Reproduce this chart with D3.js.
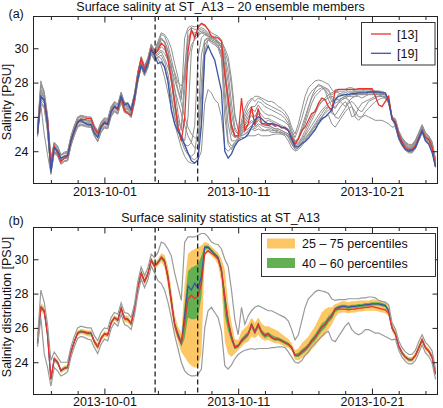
<!DOCTYPE html>
<html>
<head>
<meta charset="utf-8">
<script src="https://cdn.jsdelivr.net/npm/d3@7"></script>
<style>
  body { margin: 0; background: #fff; }
  svg text { font-family: "Liberation Sans", Arial, Helvetica, sans-serif; }
</style>
</head>
<body>
<div id="chart"></div>
<script>
// sample grid: every 6 h from 2013-09-26 00:00 UTC (120 samples)
const START = Date.UTC(2013, 8, 26);
const HOUR = 3600e3;

// ensemble member [13] (red) and [19] (blue), PSU
const member13 = [
  25.1,27.1,27.0,25.8,23.2,24.3,23.9,23.4,23.6,23.7,
  24.6,25.2,25.7,25.85,25.85,25.9,25.9,25.35,25.05,25.45,
  25.7,25.6,26.3,26.6,26.4,27.1,26.4,26.2,26.1,27.0,
  28.5,29.4,28.8,29.2,30.0,29.6,29.9,30.3,30.1,29.4,
  28.2,26.9,25.4,24.6,25.9,29.8,31.1,30.6,31.2,31.45,
  31.35,31.1,30.7,30.6,30.6,30.4,28.4,27.1,25.5,24.9,
  24.9,27.1,25.2,25.6,26.6,25.5,26.5,25.6,25.6,25.5,
  25.6,25.45,25.5,25.35,25.4,25.2,24.8,24.4,24.7,25.2,
  25.4,25.8,26.2,26.3,26.8,27.1,27.0,26.6,26.4,27.55,
  27.6,27.6,27.6,27.6,27.6,27.6,27.65,27.65,27.65,27.65,
  27.65,27.2,26.7,26.6,26.9,27.2,25.9,25.7,25.0,24.55,
  24.2,24.1,24.1,24.3,24.75,25.2,24.8,24.7,24.2,23.1
];
const member19 = [
  25.0,27.2,27.0,25.6,22.8,24.2,24.0,23.6,23.7,23.75,
  24.6,25.2,25.7,25.8,25.65,25.55,25.55,25.05,24.8,25.4,
  25.65,25.55,26.3,26.6,26.5,27.2,26.7,26.8,26.4,27.2,
  28.2,29.0,28.6,29.1,29.9,29.6,29.1,29.2,28.9,28.1,
  26.4,25.6,25.15,24.85,24.4,23.9,23.45,23.3,23.5,25.5,
  29.6,30.15,29.7,29.3,28.4,27.5,24.0,23.6,23.85,24.3,
  24.6,24.7,24.8,25.0,25.4,25.8,26.0,25.9,25.7,25.6,
  25.6,25.55,25.5,25.4,25.35,25.2,24.7,24.25,24.25,24.45,
  24.55,24.75,25.0,25.25,25.6,25.9,26.0,26.2,26.4,27.0,
  27.2,27.25,27.3,27.3,27.35,27.35,27.4,27.4,27.4,27.45,
  27.45,27.45,27.45,27.4,27.4,26.9,25.85,25.6,24.8,24.4,
  24.1,24.0,24.05,24.2,24.7,25.2,24.6,24.4,23.9,23.1
];

// other ensemble members (gray)
const memberG1 = [
  25.3,28.1,27.4,26.0,23.6,24.5,24.3,23.8,23.9,23.95,24.85,25.45,25.95,26.05,26.0,25.95,25.95,25.45,25.15,25.65,
  25.9,25.85,26.55,26.85,26.7,27.4,26.8,26.75,26.5,27.35,28.6,29.45,28.95,29.4,30.2,29.85,
  30.2,30.8,30.7,30.2,29.4,28.5,27.6,27.0,30.6,31.2,31.3,31.25,31.3,31.4,31.3,31.1,30.9,30.8,30.7,30.5,29.8,29.2,27.8,26.0,25.3,
  25.6,26.2,26.7,27.0,27.2,27.2,27.1,27.0,26.9,26.9,26.8,26.6,26.5,26.3,26.0,25.4,25.0,25.6,26.4,27.2,27.7,27.9,28.1,28.15,28.1,
  28.0,27.9,27.6,27.4,27.5,27.5,27.5,27.6,27.6,27.5,27.5,27.5,27.5,27.5,27.4,27.4,27.4,27.3,27.3,26.9,26.0,
  25.85,25.15,24.75,24.5,24.35,24.35,24.6,25.05,25.5,25.05,24.85,24.5,23.5
];
const memberG2 = [
  24.9,26.7,25.0,23.8,22.7,23.9,23.7,23.25,23.4,23.45,24.35,24.95,25.45,25.55,25.5,25.45,25.4,24.9,24.55,25.1,
  25.4,25.35,26.05,26.35,26.2,26.9,26.3,26.2,26.0,26.85,28.05,28.9,28.4,28.9,29.65,29.35,
  29.4,29.0,28.3,27.4,26.5,25.6,24.9,24.2,23.7,23.4,23.3,23.3,23.5,24.0,26.8,27.6,27.4,27.0,26.8,26.0,24.2,24.0,24.2,24.5,24.7,
  24.8,24.8,24.9,24.9,24.9,25.0,24.9,24.9,24.9,24.95,25.0,25.0,25.0,24.9,24.6,24.2,24.0,24.1,24.3,24.6,24.8,25.1,25.3,25.6,25.8,
  26.0,26.1,25.6,25.4,25.7,26.0,26.3,26.5,26.6,26.3,26.0,26.0,26.1,26.0,25.9,25.8,25.8,25.8,25.7,25.6,25.4,
  25.45,24.75,24.35,24.1,23.95,23.95,24.2,24.65,25.1,24.65,24.45,24.1,23.1
];
const memberG3 = [
  25.2,27.5,27.2,25.9,23.2,24.3,24.1,23.6,23.75,23.8,24.7,25.3,25.8,25.9,25.85,25.8,25.8,25.3,25.0,25.5,
  25.75,25.7,26.4,26.7,26.55,27.25,26.65,26.6,26.35,27.2,28.45,29.3,28.8,29.25,30.05,29.7,
  29.9,30.3,30.1,29.3,28.0,26.8,25.8,25.3,28.5,30.6,31.0,30.9,31.0,31.1,31.0,30.8,30.6,30.6,30.4,30.0,28.5,26.5,25.0,24.8,24.9,
  25.4,25.8,26.2,26.5,26.3,26.7,26.4,26.2,26.1,26.1,26.0,25.9,25.8,25.7,25.5,25.1,24.6,24.7,25.1,25.6,26.2,26.8,27.2,27.4,27.6,
  27.7,27.6,27.1,26.8,26.9,27.1,27.2,27.3,27.4,27.4,27.4,27.4,27.5,27.5,27.5,27.5,27.4,27.4,27.4,27.0,26.0,
  25.75,25.05,24.65,24.4,24.25,24.25,24.5,24.95,25.4,24.95,24.75,24.4,23.4
];
const memberG4 = [
  25.0,27.0,26.8,25.3,22.65,24.0,23.9,23.4,23.55,23.6,24.5,25.1,25.6,25.7,25.65,25.6,25.6,25.1,24.8,25.3,
  25.55,25.5,26.2,26.5,26.35,27.05,26.45,26.4,26.15,27.0,28.25,29.1,28.6,29.05,29.85,29.5,
  29.6,29.8,29.4,28.9,28.3,27.6,26.9,26.2,25.5,24.9,24.5,24.2,24.2,28.0,30.4,30.6,30.5,30.4,30.2,29.6,27.6,25.6,24.6,24.6,24.8,
  25.1,25.4,25.6,25.8,25.6,25.9,25.7,25.5,25.6,25.4,25.3,25.3,25.2,25.1,25.0,24.7,24.3,24.4,24.6,24.9,25.2,25.5,25.8,26.1,26.4,
  26.6,26.8,26.9,27.0,27.0,26.8,26.6,26.9,27.1,27.2,27.2,27.1,27.2,27.3,27.3,27.3,27.3,27.3,27.3,26.9,26.0,
  25.55,24.85,24.45,24.2,24.05,24.05,24.3,24.75,25.2,24.75,24.55,24.2,23.2
];
const memberG5 = [
  25.0,26.9,26.6,25.1,22.9,24.0,23.8,23.3,23.45,23.5,24.4,25.0,25.5,25.6,25.55,25.5,25.5,24.95,24.6,25.2,
  25.45,25.4,26.1,26.4,26.25,26.95,26.35,26.3,26.05,26.9,28.15,29.0,28.5,28.95,29.75,29.4,
  29.5,29.6,29.2,28.5,27.3,26.0,25.3,24.8,24.3,23.9,23.6,23.5,23.7,27.0,30.2,30.5,30.3,30.2,30.0,29.4,26.0,24.4,24.1,24.4,24.6,
  25.0,25.2,25.3,25.5,25.4,25.6,25.5,25.4,25.4,25.3,25.2,25.2,25.1,25.0,24.9,24.5,24.2,24.3,24.5,24.8,25.0,25.3,25.6,25.9,26.2,
  26.5,26.6,26.2,26.1,26.4,26.7,26.9,26.6,26.0,26.1,26.5,26.8,26.9,27.0,27.1,27.2,27.2,27.2,27.2,26.8,26.0,
  25.5,24.8,24.4,24.15,24.0,24.0,24.25,24.7,25.15,24.7,24.5,24.15,23.15
];
const memberG6 = [
  25.3,27.9,27.5,26.1,23.5,24.5,24.2,23.75,23.85,23.9,24.8,25.4,25.9,26.0,25.95,25.9,25.9,25.4,25.1,25.6,
  25.85,25.8,26.5,26.8,26.65,27.35,26.75,26.7,26.45,27.3,28.55,29.4,28.9,29.35,30.15,29.8,
  29.8,30.1,29.9,29.6,29.1,28.6,28.0,27.8,28.2,29.3,30.2,30.5,30.7,30.9,30.9,30.7,30.6,30.5,30.3,30.1,29.4,28.0,26.2,25.2,25.0,
  25.5,26.0,26.4,26.6,26.6,26.9,26.8,26.6,26.5,26.4,26.3,26.2,26.1,25.9,25.6,25.0,24.5,24.8,25.4,26.0,26.6,27.1,27.4,27.6,27.7,
  27.6,27.3,26.9,27.0,27.3,27.4,27.4,27.5,27.5,27.5,27.5,27.5,27.6,27.6,27.6,27.5,27.5,27.5,27.4,27.0,26.0,
  25.8,25.1,24.7,24.45,24.3,24.3,24.55,25.0,25.45,25.0,24.8,24.45,23.45
];
const memberG7 = [
  25.1,27.3,26.9,25.5,23.0,24.3,24.0,23.5,23.6,23.7,24.6,25.2,25.75,25.85,25.7,25.65,25.75,25.25,24.85,25.35,
  25.65,25.65,26.35,26.55,26.45,27.2,26.5,26.5,26.3,27.05,28.3,29.2,28.75,29.1,29.95,29.65,
  30.0,30.5,30.4,29.8,28.6,27.0,25.6,24.7,24.4,24.3,24.5,25.5,29.5,30.6,30.8,30.7,30.6,30.5,30.4,30.2,29.0,27.0,25.4,24.9,24.9,
  25.2,25.5,25.8,26.1,25.8,26.2,25.9,25.7,25.8,25.7,25.6,25.5,25.4,25.3,25.2,24.8,24.4,24.5,24.8,25.2,25.6,26.0,26.4,26.7,26.9,
  27.0,27.1,27.2,27.1,27.0,27.1,27.2,27.2,27.3,27.3,27.3,27.3,27.3,27.4,27.4,27.4,27.3,27.3,27.3,26.9,26.0,
  25.65,24.95,24.55,24.3,24.15,24.15,24.4,24.85,25.3,24.85,24.65,24.3,23.3
];
const memberG8 = [
  25.2,27.6,27.1,25.7,23.3,24.4,24.1,23.6,23.7,23.8,24.7,25.3,25.8,25.9,25.8,25.75,25.8,25.35,25.05,25.5,
  25.8,25.75,26.45,26.75,26.55,27.3,26.7,26.65,26.4,27.25,28.5,29.35,28.85,29.3,30.1,29.75,
  30.3,30.6,30.4,29.9,29.0,27.7,26.2,25.2,27.6,30.4,30.9,30.8,30.9,31.0,30.9,30.8,30.6,30.5,30.4,30.2,29.6,28.6,26.8,25.4,25.0,
  24.9,25.0,25.1,25.3,25.2,25.3,25.2,25.2,25.2,25.1,25.1,25.1,25.0,25.0,24.8,24.4,24.1,24.2,24.4,24.6,24.9,25.2,25.5,25.8,26.0,
  26.2,26.4,26.5,26.6,26.8,27.0,27.1,27.0,26.6,26.0,25.8,26.0,26.3,26.5,26.7,26.9,27.0,27.1,27.1,26.8,26.0,
  25.7,25.0,24.6,24.35,24.2,24.2,24.45,24.9,25.35,24.9,24.7,24.35,23.35
];
const memberG9 = [
  25.15,27.4,27.1,25.6,23.1,24.25,24.05,23.55,23.7,23.75,24.65,25.25,25.75,25.85,25.8,25.75,25.75,25.25,24.95,25.45,
  25.7,25.65,26.35,26.65,26.5,27.2,26.6,26.55,26.3,27.15,28.4,29.25,28.75,29.2,30.0,29.7,
  30.1,30.6,30.3,29.5,28.2,26.5,25.4,24.9,24.6,26.0,29.8,30.7,30.8,30.9,30.8,30.7,30.5,30.4,30.3,30.0,28.8,26.8,25.3,24.8,24.9,
  25.3,25.6,26.0,26.3,26.0,26.4,26.1,25.9,25.9,25.8,25.7,25.6,25.5,25.4,25.3,24.9,24.5,24.7,25.2,25.8,26.5,27.2,27.6,27.9,27.8,
  27.5,27.0,26.6,26.5,26.8,27.0,27.1,27.2,27.2,27.2,27.3,27.3,27.3,27.3,27.3,27.3,27.3,27.2,27.2,26.8,26.0,
  25.7,25.0,24.6,24.35,24.2,24.2,24.45,24.9,25.35,24.9,24.7,24.35,23.35
];
const memberG10 = [
  25.05,27.1,26.9,25.4,22.95,24.15,23.95,23.45,23.6,23.65,24.55,25.15,25.65,25.75,25.7,25.65,25.65,25.15,24.85,25.35,
  25.6,25.55,26.25,26.55,26.4,27.1,26.5,26.45,26.2,27.05,28.3,29.15,28.65,29.1,29.9,29.55,
  29.7,29.9,29.7,29.3,28.8,28.2,27.5,26.8,26.0,25.4,25.0,24.8,24.7,25.5,29.8,30.5,30.4,30.3,30.1,29.8,28.8,27.2,25.6,24.9,24.8,
  25.0,25.3,25.5,25.7,25.5,25.8,25.6,25.5,25.5,25.4,25.3,25.3,25.2,25.1,25.0,24.6,24.3,24.4,24.7,25.0,25.4,25.8,26.2,26.6,26.9,
  27.1,27.3,27.4,27.5,27.4,27.3,27.3,27.4,27.4,27.4,27.4,27.4,27.4,27.4,27.4,27.4,27.4,27.4,27.3,26.9,26.0,
  25.6,24.9,24.5,24.25,24.1,24.1,24.35,24.8,25.25,24.8,24.6,24.25,23.25
];
const memberG11 = [
  25.35,27.8,27.3,26.0,23.4,24.5,24.3,23.8,23.95,24.0,24.9,25.5,26.0,26.1,26.05,26.0,26.0,25.5,25.2,25.7,
  25.95,25.9,26.6,26.9,26.75,27.45,26.85,26.8,26.55,27.4,28.65,29.5,29.0,29.45,30.25,29.9,
  30.4,30.9,30.8,30.5,30.0,29.1,28.3,27.2,28.8,31.0,31.2,31.1,31.1,31.2,31.1,30.9,30.7,30.7,30.6,30.4,30.0,29.5,28.2,26.2,25.2,
  24.9,25.0,25.2,25.4,25.3,25.5,25.3,25.2,25.3,25.2,25.2,25.1,25.1,25.0,24.9,24.5,24.1,24.2,24.4,24.7,25.0,25.2,25.4,25.7,26.0,
  26.3,26.6,26.4,26.0,25.9,26.2,26.5,26.8,26.9,26.7,26.4,26.3,26.6,26.9,27.0,27.1,27.2,27.2,27.1,26.8,26.0,
  25.9,25.2,24.8,24.55,24.4,24.4,24.65,25.1,25.55,25.1,24.9,24.55,23.55
];
const memberG12 = [
  24.85,26.8,26.5,25.2,22.75,23.95,23.75,23.25,23.4,23.45,24.3,24.9,25.4,25.5,25.45,25.4,25.4,24.9,24.6,25.1,
  25.35,25.3,26.0,26.3,26.15,26.85,26.25,26.2,25.95,26.8,28.05,28.9,28.4,28.85,29.65,29.3,
  29.5,29.4,28.9,28.0,27.0,26.0,25.2,24.6,24.1,23.8,23.7,23.9,25.5,29.6,30.5,30.6,30.4,30.3,30.1,29.7,27.0,24.6,24.3,24.5,24.7,
  25.8,26.5,26.9,27.1,26.9,27.1,27.0,26.8,26.7,26.6,26.5,26.4,26.3,26.1,25.8,25.2,24.8,25.3,25.9,26.6,27.2,27.5,27.7,27.8,27.8,
  27.7,27.5,27.3,27.4,27.6,27.6,27.6,27.7,27.7,27.6,27.6,27.6,27.6,27.6,27.5,27.5,27.5,27.4,27.4,27.0,26.0,
  25.4,24.7,24.3,24.05,23.9,23.9,24.15,24.6,25.05,24.6,24.4,24.05,23.05
];
const grayMembers = [memberG1, memberG2, memberG3, memberG4, memberG5, memberG6,
  memberG7, memberG8, memberG9, memberG10, memberG11, memberG12];

// ensemble statistics (panel b)
const statMedian = [
  25.1,27.2,27.0,25.6,23.0,24.2,24.0,23.5,23.65,23.7,
  24.6,25.2,25.7,25.8,25.75,25.7,25.7,25.2,24.9,25.4,
  25.65,25.6,26.3,26.6,26.45,27.15,26.55,26.5,26.25,27.1,
  28.35,29.2,28.7,29.15,29.95,29.6,29.8,30.1,29.9,29.0,
  27.6,26.2,25.6,25.1,26.7,28.45,28.2,28.6,28.3,29.0,
  30.7,30.7,30.5,30.3,30.1,29.4,27.7,26.3,25.45,24.85,
  24.95,25.25,25.45,25.65,26.2,25.75,26.2,25.75,25.55,25.65,
  25.45,25.35,25.35,25.25,25.15,25.05,24.85,24.4,24.4,24.6,
  24.75,24.95,25.25,25.45,25.75,26.05,26.2,26.5,26.7,27.1,
  27.2,27.25,27.25,27.2,27.25,27.25,27.3,27.3,27.35,27.35,
  27.4,27.4,27.4,27.35,27.3,27.0,26.0,25.65,24.95,24.55,
  24.3,24.15,24.15,24.4,24.85,25.3,24.85,24.65,24.3,23.3
];
const statMean = [
  25.1,27.2,27.0,25.6,23.0,24.2,24.0,23.5,23.65,23.7,
  24.6,25.2,25.7,25.8,25.75,25.7,25.7,25.2,24.9,25.4,
  25.65,25.6,26.3,26.6,26.45,27.15,26.55,26.5,26.25,27.1,
  28.35,29.2,28.7,29.15,29.95,29.6,29.8,30.1,29.9,28.9,
  27.5,26.2,25.5,25.1,26.3,27.7,27.9,27.7,27.85,28.6,
  30.3,30.5,30.35,30.2,30.0,29.3,27.8,26.4,25.5,24.9,
  24.95,25.25,25.45,25.65,26.2,25.75,26.2,25.75,25.55,25.65,
  25.45,25.35,25.35,25.25,25.15,25.05,24.85,24.4,24.4,24.6,
  24.75,24.95,25.25,25.45,25.75,26.05,26.2,26.5,26.7,27.1,
  27.1,27.1,27.1,27.05,27.1,27.1,27.15,27.15,27.2,27.2,
  27.25,27.2,27.15,27.1,27.05,26.85,26.0,25.65,24.95,24.55,
  24.3,24.15,24.15,24.4,24.85,25.3,24.85,24.65,24.3,23.3
];
const statP25 = [
  24.95,26.95,26.75,25.3,22.85,24.0,23.85,23.35,23.5,23.55,
  24.4,25.05,25.55,25.65,25.6,25.5,25.5,25.0,24.7,25.2,
  25.5,25.45,26.1,26.45,26.25,26.95,26.35,26.3,26.05,26.9,
  28.15,29.0,28.5,28.95,29.75,29.4,29.6,29.85,29.5,28.4,
  27.0,25.8,25.2,24.6,24.3,24.0,23.8,23.7,23.7,24.5,
  30.2,30.4,30.2,30.0,29.7,28.6,25.2,24.5,24.3,24.5,
  24.7,24.9,25.1,25.2,25.5,25.4,25.6,25.35,25.25,25.3,
  25.2,25.1,25.1,25.0,24.9,24.85,24.65,24.15,24.1,24.25,
  24.35,24.5,24.75,24.95,25.2,25.45,25.6,25.9,26.2,26.6,
  26.85,26.9,26.9,26.85,26.9,26.9,26.95,26.95,27.0,27.0,
  27.0,27.0,26.95,26.9,26.85,26.7,25.8,25.45,24.75,24.4,
  24.15,24.0,24.0,24.25,24.65,25.1,24.7,24.5,24.1,23.1
];
const statP75 = [
  25.25,27.45,27.25,25.85,23.2,24.35,24.15,23.65,23.8,23.85,
  24.75,25.35,25.85,25.95,25.9,25.85,25.85,25.35,25.1,25.55,
  25.8,25.75,26.45,26.75,26.6,27.3,26.75,26.7,26.45,27.3,
  28.55,29.4,28.9,29.35,30.15,29.8,30.0,30.35,30.25,29.6,
  28.3,26.8,26.1,25.7,28.6,30.3,30.5,30.6,30.7,30.8,
  31.0,30.95,30.75,30.55,30.4,30.0,29.4,27.5,26.3,25.35,
  25.3,25.8,26.0,26.2,26.6,26.3,26.6,26.25,26.1,26.1,
  26.0,25.9,25.8,25.65,25.5,25.35,25.1,24.7,24.8,25.1,
  25.3,25.5,25.8,26.1,26.5,26.9,27.1,27.2,27.2,27.4,
  27.45,27.55,27.55,27.5,27.55,27.55,27.6,27.6,27.6,27.6,
  27.65,27.65,27.6,27.55,27.5,27.3,26.3,25.85,25.15,24.7,
  24.45,24.3,24.3,24.55,25.05,25.5,25.0,24.8,24.5,23.5
];
const statP40 = [
  25.03,27.1,26.9,25.5,22.93,24.12,23.93,23.43,23.58,23.63,
  24.52,25.13,25.63,25.73,25.68,25.62,25.62,25.12,24.82,25.33,
  25.58,25.53,26.23,26.53,26.38,27.07,26.47,26.42,26.17,27.02,
  28.27,29.1,28.62,29.07,29.87,29.52,29.72,30.0,29.75,28.8,
  27.4,26.0,25.4,24.9,25.4,26.6,26.5,26.5,26.6,27.8,
  30.55,30.6,30.4,30.2,29.95,29.1,26.7,25.8,25.2,24.75,
  24.85,25.1,25.3,25.5,26.0,25.6,26.0,25.6,25.4,25.5,
  25.35,25.25,25.25,25.15,25.05,24.95,24.75,24.3,24.3,24.45,
  24.6,24.8,25.05,25.25,25.55,25.8,26.0,26.3,26.5,26.9,
  27.05,27.15,27.15,27.1,27.15,27.15,27.2,27.2,27.25,27.25,
  27.3,27.3,27.3,27.25,27.2,26.9,25.9,25.58,24.88,24.48,
  24.23,24.08,24.08,24.33,24.78,25.23,24.78,24.58,24.22,23.22
];
const statP60 = [
  25.17,27.3,27.1,25.7,23.07,24.28,24.07,23.57,23.72,23.77,
  24.68,25.27,25.77,25.87,25.82,25.78,25.78,25.28,24.98,25.47,
  25.72,25.67,26.37,26.67,26.52,27.23,26.63,26.58,26.33,27.18,
  28.43,29.3,28.78,29.23,30.03,29.68,29.9,30.2,30.05,29.2,
  27.8,26.4,25.8,25.3,27.4,29.3,29.5,29.6,29.7,30.2,
  30.8,30.8,30.6,30.4,30.2,29.6,28.2,26.7,25.7,25.0,
  25.05,25.4,25.6,25.8,26.35,25.9,26.35,25.9,25.7,25.75,
  25.6,25.5,25.45,25.35,25.25,25.15,24.95,24.5,24.55,24.75,
  24.9,25.1,25.4,25.65,25.95,26.25,26.4,26.7,26.9,27.2,
  27.3,27.35,27.35,27.3,27.35,27.35,27.4,27.4,27.45,27.45,
  27.5,27.5,27.5,27.45,27.4,27.1,26.1,25.72,25.02,24.62,
  24.37,24.22,24.22,24.47,24.92,25.37,24.92,24.72,24.38,23.38
];
const statMin = [
  24.9,26.6,24.5,23.7,22.6,23.7,23.5,23.2,23.3,23.45,
  24.3,24.9,25.4,25.5,25.45,25.35,25.3,24.85,24.5,25.05,
  25.35,25.25,25.95,26.3,26.1,26.8,26.2,26.1,25.9,26.75,
  27.95,28.85,28.35,28.8,29.6,29.2,28.75,28.6,28.2,27.5,
  26.6,25.6,24.8,24.0,23.5,23.3,23.2,23.2,23.3,23.6,
  26.0,27.0,27.2,26.9,26.6,25.8,23.8,23.6,23.85,24.2,
  24.45,24.6,24.7,24.75,24.8,24.75,24.8,24.8,24.8,24.8,
  24.85,24.85,24.9,24.9,24.85,24.6,24.3,24.0,23.95,24.1,
  24.4,24.6,24.9,25.1,25.3,25.5,25.7,25.8,25.3,25.2,
  25.5,25.8,26.1,26.3,25.9,25.7,25.6,25.7,25.9,25.9,
  25.8,25.7,25.7,25.6,25.5,25.4,25.3,25.35,24.7,24.3,
  24.05,23.9,23.9,24.1,24.55,25.0,24.55,24.35,23.95,23.0
];
const statMax = [
  25.4,28.2,27.5,26.2,24.1,24.6,24.3,24.0,24.0,24.0,
  24.9,25.5,26.0,26.1,26.05,26.0,26.0,25.55,25.25,25.75,
  26.0,25.95,26.6,26.9,26.8,27.45,26.9,26.85,26.6,27.4,
  28.7,29.55,29.05,29.5,30.3,30.1,30.4,31.0,30.9,30.6,
  30.2,29.2,28.4,27.6,31.0,31.3,31.3,31.3,31.4,31.5,
  31.5,31.3,31.0,30.9,30.85,30.6,30.0,29.6,28.2,26.5,
  25.6,27.2,26.2,26.7,27.0,27.2,27.3,27.2,27.1,27.0,
  27.0,26.9,26.8,26.7,26.6,26.4,25.9,25.3,25.6,26.4,
  27.2,27.7,27.9,28.1,28.2,28.15,28.1,28.0,27.7,27.6,
  27.65,27.65,27.65,27.7,27.7,27.7,27.7,27.75,27.75,27.8,
  27.8,27.75,27.6,27.55,27.5,27.35,26.3,25.95,25.25,24.85,
  24.6,24.45,24.45,24.7,25.2,25.6,25.15,24.95,24.65,23.6
];

// axis ticks and markers
const minorTickDays = ["2013-09-27","2013-09-29","2013-10-03","2013-10-05","2013-10-07","2013-10-09",
  "2013-10-13","2013-10-15","2013-10-17","2013-10-19","2013-10-23","2013-10-25"];
const majorTickDays = ["2013-10-01","2013-10-11","2013-10-21"];
const yTicks = [24, 26, 28, 30];
const dashedTimes = ["2013-10-04T19:00Z", "2013-10-07T23:20Z"];

// layout
const W = 443, H = 408;
const left = 33.5, right = 437.5;
const panels = [
  {id: "a", top: 16.5, bottom: 183.5, title: "Surface salinity at ST_A13 \u2013 20 ensemble members",
   ylabel: "Salinity [PSU]", labelY: 102, titleY: 11, tagY: 17.5, tickPad: 4},
  {id: "b", top: 227.5, bottom: 394.5, title: "Surface salinity statistics at ST_A13",
   ylabel: "Salinity distribution [PSU]", labelY: 307, titleY: 221.5, tagY: 225, tickPad: 3}
];
const FONT = "'Liberation Sans', Arial, Helvetica, sans-serif";
const red = "#e8322c", blue = "#3a55a8", gray = "#919191";

const svg = d3.select("#chart").append("svg")
    .attr("width", W).attr("height", H);

const times = d3.range(member13.length).map(i => new Date(START + i * 6 * HOUR));
const x = d3.scaleUtc()
    .domain([new Date(START - 0.3 * 24 * HOUR), new Date(START + 29.9 * 24 * HOUR)])
    .range([left, right]);
const parseDay = d => new Date(d + "T00:00Z");

panels.forEach(p => {
    const y = d3.scaleLinear().domain([22.12, 31.85]).range([p.bottom, p.top]);
    const g = svg.append("g");

    g.append("clipPath").attr("id", "clip-" + p.id)
      .append("rect").attr("x", left).attr("y", p.top)
      .attr("width", right - left).attr("height", p.bottom - p.top);
    const plot = g.append("g").attr("clip-path", `url(#clip-${p.id})`);

    const line = d3.line().x((d, i) => x(times[i])).y(d => y(d));

    if (p.id === "a") {
        grayMembers.forEach(m => {
            plot.append("path").attr("d", line(m))
              .attr("fill", "none").attr("stroke", gray).attr("stroke-width", 1);
        });
        plot.append("path").attr("d", line(member13))
          .attr("fill", "none").attr("stroke", red).attr("stroke-width", 1.3);
        plot.append("path").attr("d", line(member19))
          .attr("fill", "none").attr("stroke", blue).attr("stroke-width", 1.3);
    } else {
        const band = (lo, hi) => d3.area()
            .x((d, i) => x(times[i])).y0((d, i) => y(lo[i])).y1((d, i) => y(hi[i]))(lo);
        plot.append("path").attr("d", band(statP25, statP75))
          .attr("fill", "#fdc766").attr("stroke", "none");
        plot.append("path").attr("d", band(statP40, statP60))
          .attr("fill", "#63b052").attr("stroke", "none");
        plot.append("path").attr("d", line(statMedian))
          .attr("fill", "none").attr("stroke", blue).attr("stroke-width", 1.3);
        plot.append("path").attr("d", line(statMean))
          .attr("fill", "none").attr("stroke", red).attr("stroke-width", 1.3);
        [statMin, statMax].forEach(s => {
            plot.append("path").attr("d", line(s))
              .attr("fill", "none").attr("stroke", "#9a9a9a").attr("stroke-width", 1.2);
        });
    }

    // dashed markers
    dashedTimes.forEach(t => {
        const xx = x(new Date(t));
        g.append("line").attr("x1", xx).attr("x2", xx).attr("y1", p.top).attr("y2", p.bottom)
          .attr("stroke", "#222").attr("stroke-width", 1.3).attr("stroke-dasharray", "5,3");
    });

    // axes (ticks inward, matplotlib classic)
    const styleAxis = sel => sel.attr("font-size", 12.5).attr("font-family", FONT)
        .attr("color", "#222").call(s => s.select(".domain").remove());

    g.append("g").attr("transform", `translate(0,${p.bottom})`)
      .call(d3.axisBottom(x).tickValues(majorTickDays.map(parseDay))
        .tickSizeInner(-6).tickSizeOuter(0).tickPadding(p.tickPad)
        .tickFormat(d3.utcFormat("%Y-%m-%d")))
      .call(styleAxis)
      .selectAll("text").attr("fill", "#111");
    g.append("g").attr("transform", `translate(0,${p.bottom})`)
      .call(d3.axisBottom(x).tickValues(minorTickDays.map(parseDay))
        .tickSizeInner(-3.5).tickSizeOuter(0).tickFormat(""))
      .call(styleAxis);
    g.append("g").attr("transform", `translate(0,${p.top})`)
      .call(d3.axisTop(x).tickValues(majorTickDays.map(parseDay))
        .tickSizeInner(-6).tickSizeOuter(0).tickFormat(""))
      .call(styleAxis);
    g.append("g").attr("transform", `translate(0,${p.top})`)
      .call(d3.axisTop(x).tickValues(minorTickDays.map(parseDay))
        .tickSizeInner(-3.5).tickSizeOuter(0).tickFormat(""))
      .call(styleAxis);
    g.append("g").attr("transform", `translate(${left},0)`)
      .call(d3.axisLeft(y).tickValues(yTicks).tickSizeInner(-5).tickSizeOuter(0).tickPadding(5))
      .call(styleAxis)
      .selectAll("text").attr("fill", "#111");
    g.append("g").attr("transform", `translate(${right},0)`)
      .call(d3.axisRight(y).tickValues(yTicks).tickSizeInner(-5).tickSizeOuter(0).tickFormat(""))
      .call(styleAxis);

    // frame
    g.append("rect").attr("x", left).attr("y", p.top)
      .attr("width", right - left).attr("height", p.bottom - p.top)
      .attr("fill", "none").attr("stroke", "#222").attr("stroke-width", 1);

    // titles and labels
    g.append("text").attr("x", 220.5).attr("y", p.titleY).attr("text-anchor", "middle")
      .attr("font-size", 12.5).attr("fill", "#111").text(p.title);
    g.append("text").attr("x", 8.5).attr("y", p.tagY)
      .attr("font-size", 12.5).attr("fill", "#111").text(`(${p.id})`);
    g.append("text").attr("transform", `translate(10.5,${p.labelY}) rotate(-90)`)
      .attr("text-anchor", "middle").attr("font-size", 12.5).attr("fill", "#111").text(p.ylabel);
});

// legend (a)
const legA = svg.append("g");
legA.append("rect").attr("x", 361.5).attr("y", 22.5).attr("width", 73.5).attr("height", 42.5)
  .attr("fill", "#fff").attr("stroke", "#333").attr("stroke-width", 1);
[{c: red, t: "[13]", y: 34}, {c: blue, t: "[19]", y: 53.3}].forEach(e => {
    legA.append("line").attr("x1", 371).attr("x2", 391).attr("y1", e.y).attr("y2", e.y)
      .attr("stroke", e.c).attr("stroke-width", 1.3);
    legA.append("text").attr("x", 397).attr("y", e.y + 4.5)
      .attr("font-size", 12.5).attr("fill", "#111").text(e.t);
});

// legend (b)
const legB = svg.append("g");
legB.append("rect").attr("x", 261.5).attr("y", 233.5).attr("width", 174).attr("height", 43)
  .attr("fill", "#fff").attr("stroke", "#333").attr("stroke-width", 1);
[{c: "#fdc766", t: "25 \u2013 75 percentiles", y: 238.5}, {c: "#63b052", t: "40 \u2013 60 percentiles", y: 258}]
  .forEach(e => {
    legB.append("rect").attr("x", 267).attr("y", e.y).attr("width", 28).attr("height", 10)
      .attr("fill", e.c);
    legB.append("text").attr("x", 302).attr("y", e.y + 9.5)
      .attr("font-size", 12.5).attr("fill", "#111").text(e.t);
});
</script>
</body>
</html>
